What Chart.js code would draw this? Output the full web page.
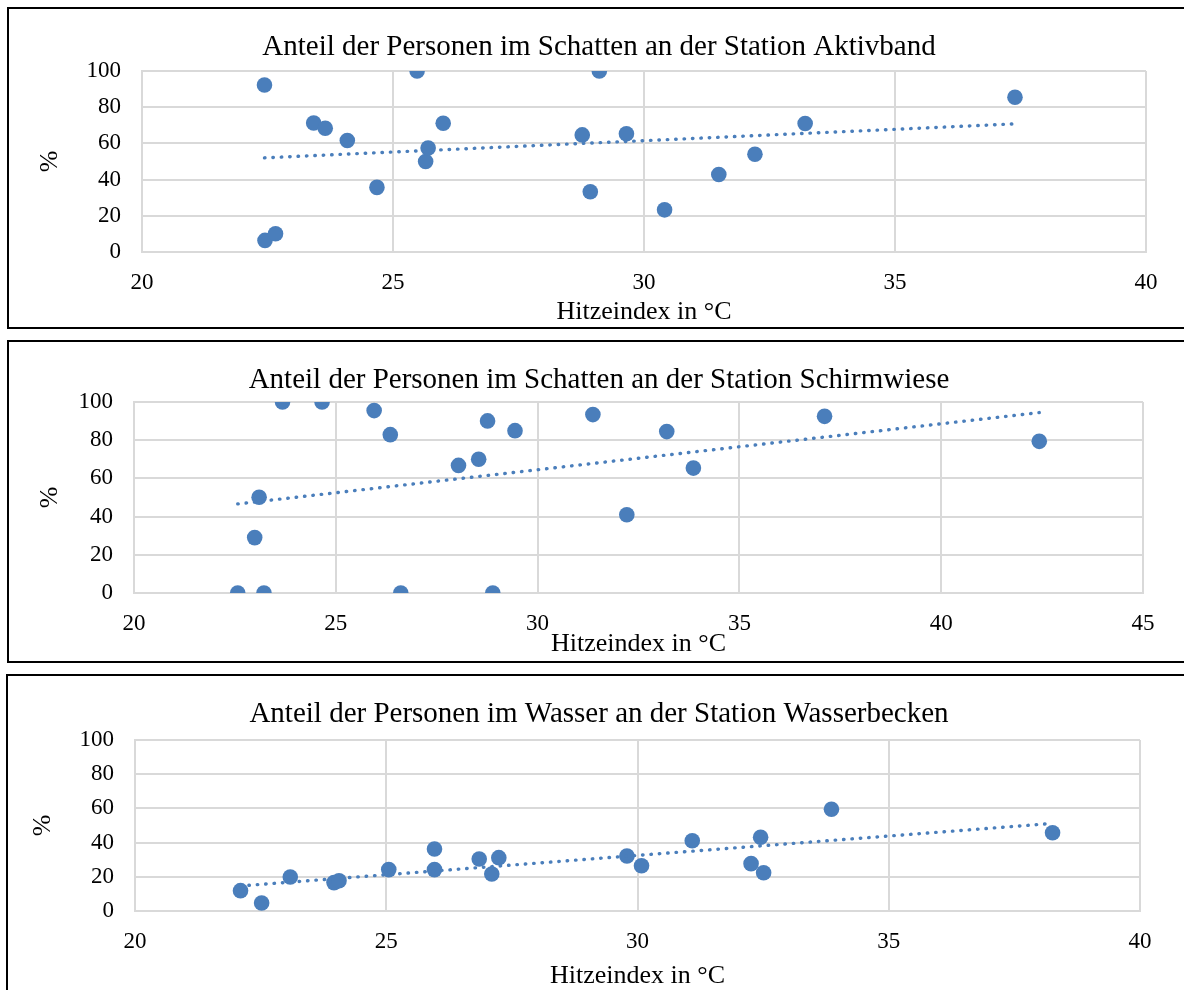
<!DOCTYPE html>
<html lang="de">
<head>
<meta charset="utf-8">
<title>Anteil der Personen nach Hitzeindex</title>
<script src="https://cdn.jsdelivr.net/npm/chart.js@4.4.1/dist/chart.umd.min.js"></script>
<style>
  body { margin: 0; background: #fff; width: 1184px; height: 990px; overflow: hidden; position: relative; }
  .frame { position: absolute; width: 1210px; border: 2px solid #000; border-right: none; box-sizing: border-box; }
  canvas { position: absolute; }
</style>
</head>
<body>
<div class="frame" style="left:7px;top:7px;height:322px"></div>
<div class="frame" style="left:7px;top:340px;height:323px"></div>
<div class="frame" style="left:6px;top:674px;height:330px"></div>
<canvas id="aktivband" width="1174" height="316" style="left:10px;top:10px"></canvas>
<canvas id="schirmwiese" width="1174" height="318" style="left:10px;top:343px"></canvas>
<canvas id="wasserbecken" width="1174" height="313" style="left:10px;top:677px"></canvas>
<script>
// Anteil in % je Messung, x = Hitzeindex in °C
var yTicks = [0, 20, 40, 60, 80, 100];

var aktivbandTicks = [20, 25, 30, 35, 40];
var aktivbandHitze = [22.44, 22.45, 22.66, 23.42, 23.65, 24.09, 24.68, 25.48, 25.65, 25.70,
                      26.00, 28.77, 28.93, 29.11, 29.65, 30.41, 31.49, 32.21, 33.21, 37.39];
var aktivbandAnteil = [92.3, 6.4, 10.1, 71.3, 68.4, 61.6, 35.7, 100, 50.0, 57.4,
                       71.1, 64.7, 33.3, 100, 65.3, 23.3, 42.8, 54.0, 71.0, 85.5];

var schirmwieseTicks = [20, 25, 30, 35, 40, 45];
var schirmwieseHitze = [22.57, 22.99, 23.10, 23.22, 23.68, 24.66, 25.95, 26.35, 26.61, 28.04,
                        28.54, 28.76, 28.89, 29.44, 31.37, 32.21, 33.20, 33.86, 37.11, 42.43];
var schirmwieseAnteil = [0, 29.0, 50.1, 0, 100, 100, 95.5, 82.9, 0, 66.8,
                         70.0, 90.1, 0, 85.0, 93.4, 41.0, 84.5, 65.4, 92.5, 79.4];

var wasserbeckenTicks = [20, 25, 30, 35, 40];
var wasserbeckenHitze = [22.10, 22.52, 23.09, 23.96, 24.06, 25.05, 25.96, 25.96, 26.85, 27.10,
                         27.24, 29.79, 30.08, 31.09, 32.26, 32.45, 32.51, 33.86, 38.26];
var wasserbeckenAnteil = [11.9, 4.7, 19.9, 16.6, 17.7, 24.2, 36.3, 24.2, 30.4, 21.6,
                          31.2, 32.2, 26.5, 41.1, 27.7, 43.1, 22.4, 59.5, 45.8];

var blue = '#4a7ebb';
var gridGrey = '#d9d9d9';
var serif = '"Liberation Serif", "Times New Roman", serif';

// lineare Trendlinie (kleinste Quadrate) über den Bereich der Messwerte
function trend(xs, ys) {
  var n = xs.length, mx = 0, my = 0, sxy = 0, sxx = 0;
  xs.forEach(function(x, i){ mx += x; my += ys[i]; });
  mx /= n; my /= n;
  xs.forEach(function(x, i){ sxy += (x - mx) * (ys[i] - my); sxx += (x - mx) * (x - mx); });
  var b = sxy / sxx, a = my - b * mx;
  var lo = Math.min.apply(null, xs), hi = Math.max.apply(null, xs);
  return [{x: lo, y: a + b * lo}, {x: hi, y: a + b * hi}];
}

// Diagrammtitel und Achsentitel
var texts = {
  id: 'texts',
  afterDraw: function(chart, args, o){
    var ctx = chart.ctx, area = chart.chartArea;
    ctx.save();
    ctx.fillStyle = '#000';
    ctx.textAlign = 'center';
    ctx.textBaseline = 'alphabetic';
    ctx.font = '29px ' + serif;
    ctx.fillText(o.title, o.titleX, o.titleY);
    ctx.font = '26px ' + serif;
    ctx.fillText('Hitzeindex in °C', (area.left + area.right) / 2, o.xTitleY);
    ctx.translate(o.yTitleX, (area.top + area.bottom) / 2);
    ctx.rotate(-Math.PI / 2);
    ctx.fillText('%', 0, 0);
    ctx.restore();
  }
};

function scatter(id, title, xs, ys, xTicks, box){
  var tickFont = {family: serif, size: 23};
  return new Chart(document.getElementById(id), {
    type: 'scatter',
    data: {
      datasets: [{
        data: trend(xs, ys),
        showLine: true,
        borderColor: blue,
        borderWidth: 3.4,
        borderDash: [0.5, 7.9],
        borderCapStyle: 'round',
        pointRadius: 0
      }, {
        data: xs.map(function(x, i){ return {x: x, y: ys[i]}; }),
        backgroundColor: blue,
        borderColor: blue,
        borderWidth: 0,
        pointRadius: 7.8
      }]
    },
    options: {
      responsive: false,
      animation: false,
      events: [],
      layout: {padding: {left: 0, top: box.top, right: box.right, bottom: box.bottom}},
      plugins: {
        legend: {display: false},
        tooltip: {enabled: false},
        texts: {title: title, titleX: 589, titleY: 45, xTitleY: box.xTitleY, yTitleX: box.yTitleX}
      },
      scales: {
        x: {
          type: 'linear',
          min: xTicks[0],
          max: xTicks[xTicks.length - 1],
          afterBuildTicks: function(s){ s.ticks = xTicks.map(function(v){ return {value: v}; }); },
          afterFit: function(s){ s.height = 50; },
          grid: {color: gridGrey, lineWidth: 2, drawTicks: false},
          border: {color: gridGrey, width: 2},
          ticks: {color: '#000', font: tickFont, padding: 17, maxRotation: 0, autoSkip: false}
        },
        y: {
          min: 0,
          max: 100,
          afterBuildTicks: function(s){ s.ticks = yTicks.map(function(v){ return {value: v}; }); },
          afterFit: function(s){ s.width = box.left; },
          grid: {color: gridGrey, lineWidth: 2, drawTicks: false},
          border: {color: gridGrey, width: 2},
          ticks: {color: '#000', font: tickFont, padding: 21}
        }
      }
    },
    plugins: [texts]
  });
}

scatter('aktivband', 'Anteil der Personen im Schatten an der Station Aktivband',
  aktivbandHitze, aktivbandAnteil, aktivbandTicks,
  {left: 132, top: 61, right: 38, bottom: 24, xTitleY: 309, yTitleX: 47});

scatter('schirmwiese', 'Anteil der Personen im Schatten an der Station Schirmwiese',
  schirmwieseHitze, schirmwieseAnteil, schirmwieseTicks,
  {left: 124, top: 59, right: 41, bottom: 18, xTitleY: 308, yTitleX: 47});

scatter('wasserbecken', 'Anteil der Personen im Wasser an der Station Wasserbecken',
  wasserbeckenHitze, wasserbeckenAnteil, wasserbeckenTicks,
  {left: 125, top: 63, right: 44, bottom: 29, xTitleY: 306, yTitleX: 40});
</script>
</body>
</html>
